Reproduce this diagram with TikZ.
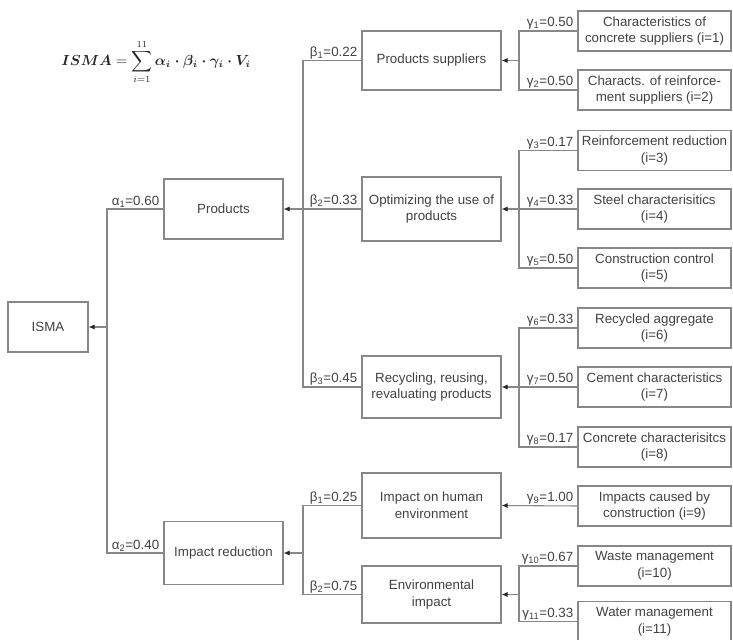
\documentclass[tikz,border=0pt]{standalone}
\usepackage{fontspec}
\setmainfont{Liberation Sans}
\usepackage{amsmath}
\usetikzlibrary{arrows.meta}
\definecolor{linec}{RGB}{135,135,135}
\definecolor{textc}{RGB}{65,65,65}
\begin{document}
\begin{tikzpicture}[x=0.75pt,y=-0.75pt,
  every node/.append style={text=textc,font=\fontsize{10}{12.5}\selectfont},
  box/.style={draw=linec,line width=0.8pt,inner sep=0pt,align=center},
  leaf/.style={box,minimum width=114.75pt,minimum height=30pt},
  midbox/.style={box,minimum width=104.25pt},
  topbox/.style={box,minimum width=89.25pt},
  wire/.style={draw=linec,line width=0.8pt},
  arr/.style={wire,-{Latex[length=4.5pt,width=3.8pt,color=black!85]}},
  lab/.style={anchor=south east,inner sep=1pt}]
\useasboundingbox (0,0) rectangle (733,640);
\coordinate (ja) at (107,0);
\coordinate (jb) at (303,0);
\coordinate (jc) at (519,0);
\node[box,minimum width=60pt,minimum height=37.5pt] (isma) at (48,327) {ISMA};
\node[topbox,minimum height=45pt] (prod) at (223.5,209) {Products};
\node[topbox,minimum height=47.25pt] (impr) at (223.5,553) {Impact reduction};
\node[midbox,minimum height=44.25pt] (ps) at (431.5,60.5) {Products suppliers};
\node[midbox,minimum height=48pt] (opt) at (431.5,209) {Optimizing the use of\\products};
\node[midbox,minimum height=46.5pt] (rec) at (431.5,387) {Recycling, reusing,\\revaluating products};
\node[midbox,minimum height=48.75pt] (hum) at (431.5,505.5) {Impact on human\\environment};
\node[midbox,minimum height=42.75pt] (env) at (431.5,594.5) {Environmental\\impact};
\node[leaf] (l1) at (654.5,31) {Characteristics of\\concrete suppliers (i=1)};
\node[leaf] (l2) at (654.5,90) {Characts. of reinforce-\\ment suppliers (i=2)};
\node[leaf] (l3) at (654.5,150.5) {Reinforcement reduction\\(i=3)};
\node[leaf] (l4) at (654.5,209) {Steel characterisitics\\(i=4)};
\node[leaf] (l5) at (654.5,268) {Construction control\\(i=5)};
\node[leaf] (l6) at (654.5,328) {Recycled aggregate\\(i=6)};
\node[leaf] (l7) at (654.5,387) {Cement characteristics\\(i=7)};
\node[leaf] (l8) at (654.5,447) {Concrete characterisitcs\\(i=8)};
\node[leaf] (l9) at (654.5,506) {Impacts caused by\\construction (i=9)};
\node[leaf] (l10) at (654.5,566) {Waste management\\(i=10)};
\node[leaf] (l11) at (654.5,621.5) {Water management\\(i=11)};
\draw[wire] (prod.west) -| (ja |- isma.east);
\draw[wire] (impr.west) -| (ja |- isma.east);
\draw[arr] (ja |- isma.east) -- (isma.east);
\draw[wire] (ps.west) -| (jb |- prod.east);
\draw[wire] (opt.west) -| (jb |- prod.east);
\draw[wire] (rec.west) -| (jb |- prod.east);
\draw[arr] (jb |- prod.east) -- (prod.east);
\draw[wire] (hum.west) -| (jb |- impr.east);
\draw[wire] (env.west) -| (jb |- impr.east);
\draw[arr] (jb |- impr.east) -- (impr.east);
\draw[wire] (l1.west) -| (jc |- ps.east);
\draw[wire] (l2.west) -| (jc |- ps.east);
\draw[arr] (jc |- ps.east) -- (ps.east);
\draw[wire] (l3.west) -| (jc |- opt.east);
\draw[wire] (l4.west) -| (jc |- opt.east);
\draw[wire] (l5.west) -| (jc |- opt.east);
\draw[arr] (jc |- opt.east) -- (opt.east);
\draw[wire] (l6.west) -| (jc |- rec.east);
\draw[wire] (l7.west) -| (jc |- rec.east);
\draw[wire] (l8.west) -| (jc |- rec.east);
\draw[arr] (jc |- rec.east) -- (rec.east);
\draw[arr] (l9.west) -- (hum.east);
\draw[wire] (l10.west) -| (jc |- env.east);
\draw[wire] (l11.west) -| (jc |- env.east);
\draw[arr] (jc |- env.east) -- (env.east);
\node[lab] (a1) at ([xshift=-2pt]prod.west) {α\textsubscript{1}=0.60};
\node[lab] (a2) at ([xshift=-2pt]impr.west) {α\textsubscript{2}=0.40};
\node[lab] (b1) at ([xshift=-2pt]ps.west) {β\textsubscript{1}=0.22};
\node[lab] (b2) at ([xshift=-2pt]opt.west) {β\textsubscript{2}=0.33};
\node[lab] (b3) at ([xshift=-2pt]rec.west) {β\textsubscript{3}=0.45};
\node[lab] (b4) at ([xshift=-2pt]hum.west) {β\textsubscript{1}=0.25};
\node[lab] (b5) at ([xshift=-2pt]env.west) {β\textsubscript{2}=0.75};
\node[lab] (g1) at ([xshift=-2pt]l1.west) {γ\textsubscript{1}=0.50};
\node[lab] (g2) at ([xshift=-2pt]l2.west) {γ\textsubscript{2}=0.50};
\node[lab] (g3) at ([xshift=-2pt]l3.west) {γ\textsubscript{3}=0.17};
\node[lab] (g4) at ([xshift=-2pt]l4.west) {γ\textsubscript{4}=0.33};
\node[lab] (g5) at ([xshift=-2pt]l5.west) {γ\textsubscript{5}=0.50};
\node[lab] (g6) at ([xshift=-2pt]l6.west) {γ\textsubscript{6}=0.33};
\node[lab] (g7) at ([xshift=-2pt]l7.west) {γ\textsubscript{7}=0.50};
\node[lab] (g8) at ([xshift=-2pt]l8.west) {γ\textsubscript{8}=0.17};
\node[lab] (g9) at ([xshift=-2pt]l9.west) {γ\textsubscript{9}=1.00};
\node[lab] (g10) at ([xshift=-2pt]l10.west) {γ\textsubscript{10}=0.67};
\node[lab] (g11) at ([xshift=-2pt]l11.west) {γ\textsubscript{11}=0.33};
\node[text=black!85,font=\fontsize{10.5}{13}\selectfont] (formula) at (156,62) {$\displaystyle \boldsymbol{ISMA}=\sum_{i=1}^{11}\boldsymbol{\alpha_i\cdot\beta_i\cdot\gamma_i\cdot V_i}$};
\end{tikzpicture}
\end{document}
